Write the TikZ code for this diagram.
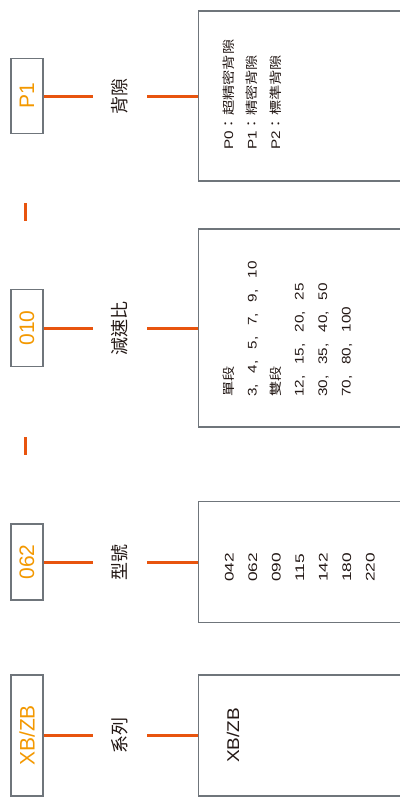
\documentclass[tikz,border=0pt]{standalone}
\usepackage{fontspec}
\setmainfont{Liberation Sans}
\newfontfamily\cjk{Noto Sans CJK TC}
\definecolor{codeor}{HTML}{F39800}
\definecolor{linkor}{HTML}{E8540E}
\definecolor{boxgray}{HTML}{6F757B}
\definecolor{ink}{HTML}{231815}
\newcommand\stx[1]{\scalebox{1.22}[1]{#1}}
\newcommand\stn[1]{\scalebox{1.38}[1]{#1}}
\newcommand\zcomma{,\hspace{0.72em}}
\begin{document}
\begin{tikzpicture}[x=1pt,y=-1pt,
  codebox/.style={draw=boxgray, line width=1.1pt, rotate=90, inner sep=0pt,
    text=codeor, font=\fontsize{21}{21}\selectfont, minimum height=32pt},
  tag/.style={rotate=90, inner sep=0pt, minimum height=54pt, text=ink,
    font=\cjk\fontsize{18}{18}\selectfont},
  infobox/.style={draw=boxgray, line width=1.1pt, anchor=west,
    minimum width=240pt, inner sep=0pt},
  item/.style={rotate=90, anchor=base west, inner sep=0pt, text=ink,
    font=\fontsize{12.5}{12.5}\selectfont},
  link/.style={draw=linkor, line width=3pt}]
\useasboundingbox (0,0) rectangle (399,803);

% code boxes
\node[codebox, minimum width=75pt]  (c1) at (27,96)    {P1};
\node[codebox, minimum width=77pt]  (c2) at (27,328)   {010};
\node[codebox, minimum width=76pt]  (c3) at (27,562)   {062};
\node[codebox, minimum width=121pt] (c4) at (27,735.5) {XB/ZB};

% labels
\node[tag] (t1) at (120,96)  {背隙};
\node[tag] (t2) at (120,328) {減速比};
\node[tag] (t3) at (120,562) {型號};
\node[tag] (t4) at (120,735.5) {系列};

% info boxes
\node[infobox, minimum height=170pt] (b1) at (197.5,96)  {};
\node[infobox, minimum height=198pt] (b2) at (197.5,328) {};
\node[infobox, minimum height=121pt] (b3) at (197.5,562) {};
\node[infobox, minimum height=121pt] (b4) at (197.5,735.5) {};

% connectors
\draw[link] (c1) -- (t1);
\draw[link] (t1) -- (b1);
\draw[link] (c2) -- (t2);
\draw[link] (t2) -- (b2);
\draw[link] (c3) -- (t3);
\draw[link] (t3) -- (b3);
\draw[link] (c4) -- (t4);
\draw[link] (t4) -- (b4);

% separators
\coordinate (s1a) at (25,203);
\coordinate (s1b) at (25,221);
\coordinate (s2a) at (25,437);
\coordinate (s2b) at (25,455);
\draw[link] (s1a) -- (s1b);
\draw[link] (s2a) -- (s2b);

% box 1 contents
\node[item] (p0) at (233,150)   {\stx{P0{\cjk：超精密背隙}}};
\node[item] (p1) at (256.5,150) {\stx{P1{\cjk：精密背隙}}};
\node[item] (p2) at (280,150)   {\stx{P2{\cjk：標準背隙}}};

% box 2 contents
\node[item] (r1) at (233,397)   {\stx{{\cjk 單段}}};
\node[item] (r2) at (256.5,397) {\stx{3\zcomma 4\zcomma 5\zcomma 7\zcomma 9\zcomma 10}};
\node[item] (r3) at (280,397)   {\stx{{\cjk 雙段}}};
\node[item] (r4) at (303.5,397) {\stx{12\zcomma 15\zcomma 20\zcomma 25}};
\node[item] (r5) at (327,397)   {\stx{30\zcomma 35\zcomma 40\zcomma 50}};
\node[item] (r6) at (350.5,397) {\stx{70\zcomma 80\zcomma 100}};

% box 3 contents
\node[item] (m1) at (233.5,582) {\stn{042}};
\node[item] (m2) at (257,582)   {\stn{062}};
\node[item] (m3) at (280.5,582) {\stn{090}};
\node[item] (m4) at (304,582)   {\stn{115}};
\node[item] (m5) at (327.5,582) {\stn{142}};
\node[item] (m6) at (351,582)   {\stn{180}};
\node[item] (m7) at (374.5,582) {\stn{220}};

% box 4 contents
\node[item, font=\fontsize{17}{17}\selectfont] (x1) at (239,763) {\scalebox{1.12}[1]{XB/ZB}};
\end{tikzpicture}
\end{document}
